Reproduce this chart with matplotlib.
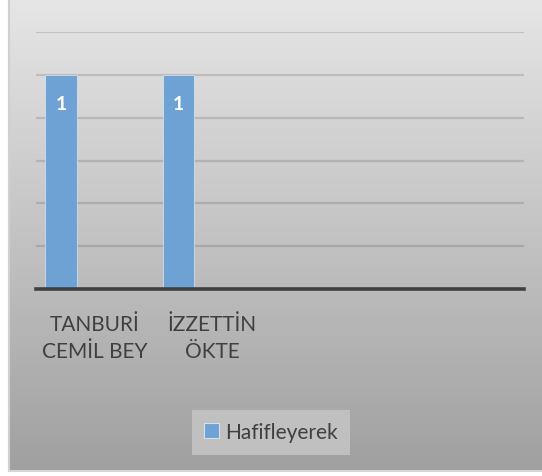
import numpy as np
import matplotlib
matplotlib.use("Agg")
import matplotlib.pyplot as plt
from matplotlib.lines import Line2D
from matplotlib.patches import Patch

# Chart data
categories = ["TANBURİ\nCEMİL BEY", "İZZETTİN\nÖKTE"]
series_name = "Hafifleyerek"
hafifleyerek = [1, 1]
y_ticks = [0, 0.2, 0.4, 0.6, 0.8, 1.0, 1.2]

plt.rcParams['font.family'] = ['Lato', 'DejaVu Sans']

W, H = 542, 477
fig = plt.figure(figsize=(W / 100, H / 100), dpi=100)
fig.patch.set_facecolor('white')

# Chart area with vertical gray gradient
bg = fig.add_axes([9 / W, 5 / H, 533 / W, 472 / H], zorder=0)
grad = np.linspace(230, 160, 256).reshape(-1, 1) / 255.0
bg.imshow(np.dstack([grad, grad, grad]), aspect='auto', extent=[0, 1, 0, 1],
          interpolation='bicubic')
bg.set_xlim(0, 1)
bg.set_ylim(0, 1)
bg.axis('off')

# Chart area border (left and bottom)
fig.add_artist(Line2D([9 / W, 9 / W], [5 / H, 1], transform=fig.transFigure,
                      color='#d0d0d0', lw=1.5))
fig.add_artist(Line2D([9 / W, 1], [5 / H, 5 / H], transform=fig.transFigure,
                      color='#d6d6d6', lw=1.5))

# Plot area
ax = fig.add_axes([36 / W, 1 - 290 / H, 488 / W, 257 / H], zorder=1)
ax.set_facecolor('none')

x = np.arange(len(categories))
bar_w = 0.27
offset = -0.285
bars = ax.bar(x + offset, hafifleyerek, width=bar_w, color='#6ea2d5',
              edgecolor=(1, 1, 1, 0.45), linewidth=0.8, zorder=3,
              label=series_name)

for rect, v in zip(bars, hafifleyerek):
    ax.text(rect.get_x() + rect.get_width() / 2, v - 0.135, f"{v}",
            ha='center', va='center', color='white', fontsize=14,
            fontweight='bold', zorder=4)

ax.set_xlim(-0.5, -0.5 + 488 / 117.3)
ax.set_ylim(0, 1.2)
ax.set_yticks(y_ticks)
ax.yaxis.grid(True, color='#000000', alpha=0.13, linewidth=1.6, zorder=0)
ax.set_axisbelow(True)
ax.tick_params(axis='y', length=0, labelleft=False)

ax.set_xticks(x)
ax.set_xticklabels(categories, fontsize=15, color='#404040', linespacing=1.45)
ax.tick_params(axis='x', length=0, pad=18)

for s in ['top', 'right', 'left']:
    ax.spines[s].set_visible(False)
ax.spines['bottom'].set_color('#404040')
ax.spines['bottom'].set_linewidth(2.6)
ax.spines['bottom'].set_zorder(5)

handle = Patch(facecolor='#6ea2d5', edgecolor=(1, 1, 1, 0.6), linewidth=0.8)
leg = fig.legend([handle], [series_name], loc='center',
                 bbox_to_anchor=(271 / W, 1 - 433 / H), frameon=True,
                 fancybox=False, fontsize=15, handlelength=0.7,
                 handleheight=0.7, handletextpad=0.3, borderpad=0.6,
                 labelcolor='#404040')
leg.get_frame().set_facecolor('#c0c0c0')
leg.get_frame().set_edgecolor('none')
leg.get_frame().set_alpha(1)

fig.savefig('out.png', dpi=100)
